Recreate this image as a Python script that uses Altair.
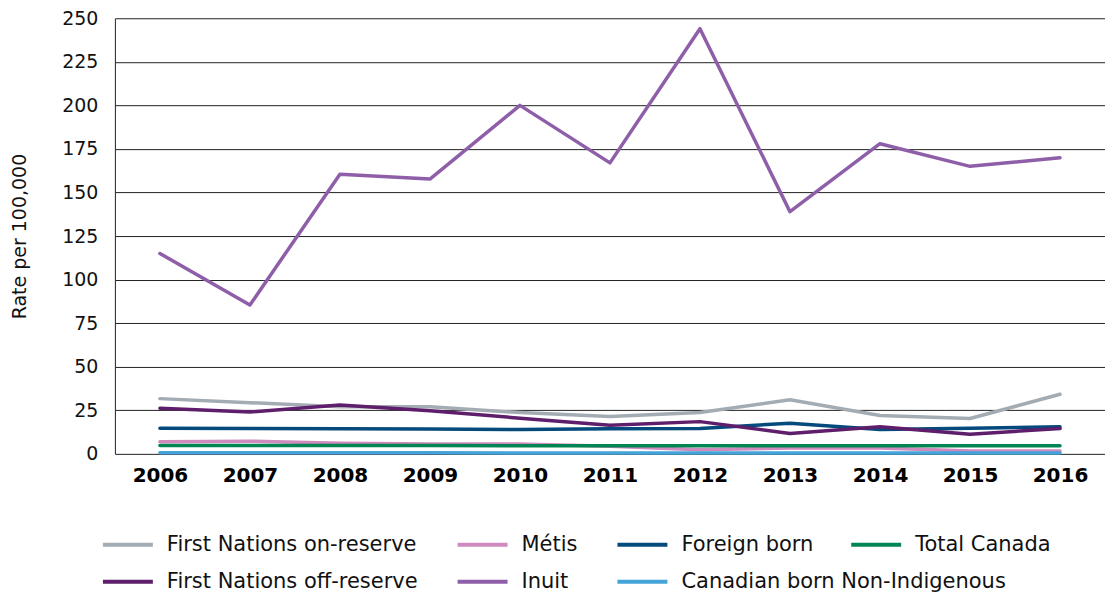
import altair as alt
import pandas as pd

years = ["2006", "2007", "2008", "2009", "2010", "2011", "2012", "2013", "2014", "2015", "2016"]

fn_on_reserve = [31.7, 29.4, 27.0, 27.0, 23.7, 21.4, 23.7, 31.0, 22.0, 20.3, 34.2]
metis = [7.0, 7.3, 6.1, 5.6, 5.6, 4.4, 2.3, 3.4, 3.4, 1.7, 1.7]
foreign_born = [14.7, 14.6, 14.4, 14.3, 14.0, 14.4, 14.5, 17.6, 14.0, 14.7, 15.5]
total_canada = [4.8, 4.8, 4.8, 4.8, 4.7, 4.7, 4.7, 4.7, 4.7, 4.6, 4.6]
fn_off_reserve = [26.2, 24.0, 28.0, 24.7, 20.5, 16.4, 18.5, 11.7, 15.5, 11.3, 14.5]
inuit = [115.0, 85.4, 160.5, 157.7, 200.0, 167.0, 244.0, 139.0, 178.0, 165.0, 170.0]
canadian_born = [0.6, 0.6, 0.6, 0.6, 0.5, 0.5, 0.5, 0.5, 0.5, 0.5, 0.5]

series_names = [
    "First Nations on-reserve", "Métis", "Foreign born", "Total Canada",
    "First Nations off-reserve", "Inuit", "Canadian born Non-Indigenous",
]
series_values = [fn_on_reserve, metis, foreign_born, total_canada,
                 fn_off_reserve, inuit, canadian_born]
series_colors = ["#a3acb3", "#cf8bbe", "#044a7c", "#008553",
                 "#5e1e6b", "#8f5ea9", "#44a3d8"]

rows = []
for name, vals in zip(series_names, series_values):
    for y, v in zip(years, vals):
        rows.append({"Year": y, "Series": name, "Rate": v})
df = pd.DataFrame(rows)

main_names = [n for n in series_names if n != "Total Canada"]
main_colors = [c for n, c in zip(series_names, series_colors) if n != "Total Canada"]
total_color = series_colors[series_names.index("Total Canada")]

FONT = "DejaVu Sans"

x_enc = alt.X("Year:O", sort=years, title=None,
              scale=alt.Scale(type="point", padding=0.5),
              axis=alt.Axis(labelAngle=0, labelFontWeight="bold", labelFontSize=20,
                            labelColor="#000000", ticks=False, domain=False,
                            labelPadding=12, labelFont=FONT))
y_enc = alt.Y("Rate:Q", title="Rate per 100,000",
              scale=alt.Scale(domain=[0, 250], nice=False),
              axis=alt.Axis(values=list(range(0, 251, 25)), grid=True, gridColor="#222222",
                            gridWidth=1, ticks=False, domain=True, domainColor="#222222",
                            labelFontSize=19, labelColor="#111111", labelPadding=17,
                            labelFont=FONT, titleFont=FONT, titleFontSize=19,
                            titleFontWeight="normal", titleColor="#111111", titlePadding=32))

legend_common = dict(title=None, orient="none", direction="horizontal",
                     symbolType="stroke", symbolSize=2500, symbolStrokeWidth=4,
                     labelFontSize=21, labelFont=FONT, labelColor="#111111",
                     labelOffset=12, labelLimit=400)

base = alt.Chart(df)

main_lines = base.transform_filter(
    alt.datum.Series != "Total Canada"
).mark_line(strokeWidth=3.5, strokeCap="round", strokeJoin="round").encode(
    x=x_enc, y=y_enc,
    color=alt.Color("Series:N",
                    scale=alt.Scale(domain=main_names, range=main_colors),
                    sort=main_names,
                    legend=alt.Legend(legendX=-14, legendY=500, columns=3,
                                      columnPadding=31, rowPadding=0, **legend_common)),
    detail="Series:N",
)

total_line = base.transform_filter(
    alt.datum.Series == "Total Canada"
).mark_line(strokeWidth=3.5, strokeCap="round", strokeJoin="round").encode(
    x=x_enc, y=y_enc,
    color=alt.Color("Series:N",
                    scale=alt.Scale(domain=["Total Canada"], range=[total_color]),
                    legend=alt.Legend(legendX=735, legendY=500, **legend_common)),
)

chart = alt.layer(main_lines, total_line).resolve_scale(color="independent").properties(
    width=991, height=436,
    padding={"left": 2, "top": 1, "right": 0, "bottom": 0},
).configure_view(stroke=None)

chart.save("out.html", embed_options={"renderer": "svg", "actions": False})
